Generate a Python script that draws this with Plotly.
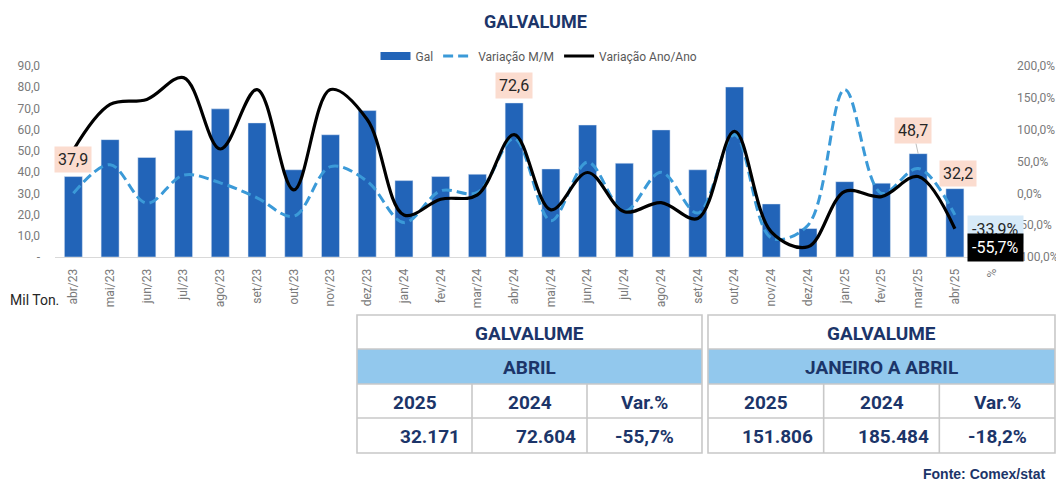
import plotly.graph_objects as go

# ---------------- data ----------------
categories = ["abr/23", "mai/23", "jun/23", "jul/23", "ago/23", "set/23", "out/23", "nov/23",
              "dez/23", "jan/24", "fev/24", "mar/24", "abr/24", "mai/24", "jun/24", "jul/24",
              "ago/24", "set/24", "out/24", "nov/24", "dez/24", "jan/25", "fev/25", "mar/25",
              "abr/25", "%"]
gal = [37.9, 55.3, 46.9, 59.7, 69.8, 63.2, 41.1, 57.6, 69.0, 36.0, 37.9, 39.0, 72.6, 41.5,
       62.2, 44.2, 59.9, 41.1, 80.1, 25.0, 13.4, 35.5, 34.8, 48.7, 32.2]
var_mm = [0.0, 45.0, -15.5, 28.5, 16.5, -7.0, -36.0, 42.0, 19.0, -46.0, 4.0, 1.5, 86.0, -43.0,
          49.0, -28.0, 33.0, -31.0, 92.0, -70.0, -50.0, 163.0, 0.0, 39.0, -33.9]
var_aa = [68.0, 139.6, 147.5, 181.7, 69.6, 163.0, 5.4, 163.0, 115.9, -34.0, -9.3, -2.5, 92.2,
          -26.0, 32.7, -28.9, -14.6, -39.4, 97.5, -60.5, -84.0, 2.8, -5.2, 26.4, -55.7]
left_ticks = [0, 10, 20, 30, 40, 50, 60, 70, 80, 90]
right_ticks = [-100, -50, 0, 50, 100, 150, 200]

# labelled bar values (index)
bar_labels = [0, 12, 23, 24]

# summary tables
table_title = "GALVALUME"
table1_period = "ABRIL"
table2_period = "JANEIRO A ABRIL"
table_headers = ["2025", "2024", "Var.%"]
table1_values = ["32.171", "72.604", "-55,7%"]
table2_values = ["151.806", "185.484", "-18,2%"]

# ---------------- geometry helpers ----------------
# the page body has an 8px margin, so the figure is drawn 8px smaller and
# every reference position is shifted by that margin
OFF = 8
W, H = 1064 - OFF, 481 - OFF
# plot area in reference (page) pixels
RL, RR, RT, RB = 55, 1010, 66, 257
PL, PR, PT, PB = RL - OFF, RR - OFF, RT - OFF, RB - OFF


def px(x):
    return (x - RL) / (RR - RL)


def py(y):
    return (RB - y) / (RB - RT)


def fmt(v):
    return f"{v:.1f}".replace(".", ",")


NAVY = "#1c3569"
BAR = "#2264b8"
DASH = "#3b9ad8"
GRAY = "#7a7a7a"

fig = go.Figure()
fig.add_trace(go.Bar(x=categories[:len(gal)], y=gal, name="Gal", marker_color=BAR,
                     yaxis="y", showlegend=False))
# legend entry for the bars (wide flat swatch as in the original)
fig.add_trace(go.Scatter(x=[None], y=[None], name="Gal", mode="lines",
                         line=dict(color=BAR, width=8), yaxis="y"))
fig.add_trace(go.Scatter(x=categories[:len(var_mm)], y=var_mm, name="Variação M/M",
                         mode="lines", yaxis="y2",
                         line=dict(color=DASH, width=3, dash="10px,5px", shape="spline",
                                   smoothing=1.0)))
fig.add_trace(go.Scatter(x=categories[:len(var_aa)], y=var_aa, name="Variação Ano/Ano",
                         mode="lines", yaxis="y2",
                         line=dict(color="black", width=3.2, shape="spline", smoothing=1.0)))

annotations = []
shapes = []


def paper_text(x, y, text, font, xanchor="center", yanchor="middle"):
    annotations.append(dict(x=px(x), y=py(y), xref="paper", yref="paper", text=text,
                            showarrow=False, xanchor=xanchor, yanchor=yanchor, font=font))


# bar data labels
lab_offsets = {0: (0, 17), 12: (0, 17), 23: (-5, 23), 24: (3, 15)}
for i in bar_labels:
    dx, dy = lab_offsets[i]
    if i == 23:
        annotations.append(dict(x=categories[i], y=gal[i], xref="x", yref="y",
                                text=fmt(gal[i]), showarrow=True, arrowhead=0,
                                arrowwidth=1, arrowcolor="#bdbdbd", ax=dx, ay=-dy,
                                standoff=0,
                                bgcolor="#fbdccf", borderpad=3,
                                font=dict(family="Roboto", size=16, color="#262626")))
    else:
        annotations.append(dict(x=categories[i], y=gal[i], xref="x", yref="y",
                                text=fmt(gal[i]), showarrow=False, xshift=dx, yshift=dy,
                                bgcolor="#fbdccf", borderpad=3,
                                font=dict(family="Roboto", size=16, color="#262626")))

# last-point percentage labels
annotations.append(dict(x=categories[25], y=var_mm[-1], xref="x", yref="y2",
                        text=fmt(var_mm[-1]) + "%", showarrow=False, xshift=4, yshift=-15,
                        bgcolor="#d7eaf8", borderpad=4,
                        font=dict(family="Roboto", size=16, color="#262626")))
annotations.append(dict(x=categories[25], y=var_aa[-1], xref="x", yref="y2",
                        text=fmt(var_aa[-1]) + "%", showarrow=False, xshift=4, yshift=-19,
                        bgcolor="black", borderpad=4,
                        font=dict(family="Roboto", size=16, color="white")))

# title & footnotes
paper_text(535, 21, "<b>GALVALUME</b>", dict(family="Roboto", size=18, color=NAVY))
paper_text(OFF, 300, "Mil Ton.", dict(family="Roboto", size=14, color="#262626"),
           xanchor="left")
paper_text(1047, 474, "<b>Fonte: Comex/stat</b>",
           dict(family="Liberation Sans", size=14, color=NAVY), xanchor="right")

# tables
rows_y = [315, 349, 384, 418, 453]
BORDER = "#c8c8c8"


def draw_table(x0, x1, period, values, val_shift):
    cw = (x1 - x0) / 3
    shapes.append(dict(type="rect", xref="paper", yref="paper", x0=px(x0), x1=px(x1),
                       y0=py(rows_y[2]), y1=py(rows_y[1]), fillcolor="#92c8ed",
                       line=dict(width=0), layer="below"))
    shapes.append(dict(type="rect", xref="paper", yref="paper", x0=px(x0), x1=px(x1),
                       y0=py(rows_y[4]), y1=py(rows_y[0]), line=dict(color=BORDER, width=1.6)))
    for r in rows_y[1:4]:
        shapes.append(dict(type="line", xref="paper", yref="paper", x0=px(x0), x1=px(x1),
                           y0=py(r), y1=py(r), line=dict(color=BORDER, width=1.6)))
    for c in (1, 2):
        xc = x0 + c * cw
        shapes.append(dict(type="line", xref="paper", yref="paper", x0=px(xc), x1=px(xc),
                           y0=py(rows_y[4]), y1=py(rows_y[2]),
                           line=dict(color=BORDER, width=1.6)))
    f = dict(family="Roboto", size=19, color=NAVY)
    xm = (x0 + x1) / 2
    paper_text(xm, (rows_y[0] + rows_y[1]) / 2 + 1, f"<b>{table_title}</b>", f)
    paper_text(xm, (rows_y[1] + rows_y[2]) / 2 + 1, f"<b>{period}</b>", f)
    for c in range(3):
        xc = x0 + (c + 0.5) * cw
        paper_text(xc, (rows_y[2] + rows_y[3]) / 2 + 1, f"<b>{table_headers[c]}</b>", f)
        paper_text(xc + val_shift[c], (rows_y[3] + rows_y[4]) / 2 + 1,
                   f"<b>{values[c]}</b>", f)


draw_table(357, 702, table1_period, table1_values, [15, 16, 0])
draw_table(708, 1055, table2_period, table2_values, [12, 12, 0])

fig.update_layout(
    width=W, height=H,
    margin=dict(l=PL, r=W - PR, t=PT, b=H - PB, pad=0, autoexpand=False),
    paper_bgcolor="white", plot_bgcolor="white",
    bargap=0.51,
    showlegend=True,
    legend=dict(orientation="h", x=px(539), xanchor="center", y=py(56), yanchor="middle",
                font=dict(family="Roboto", size=12, color="#595959"),
                tracegroupgap=0, bgcolor="rgba(0,0,0,0)"),
    xaxis=dict(type="category", categoryorder="array", categoryarray=categories,
               range=[-0.5, len(categories) - 0.5], automargin=False,
               tickangle=-90, tickfont=dict(family="Roboto", size=12, color=GRAY),
               showgrid=False, showline=True, linecolor="#d9d9d9", linewidth=1,
               ticks="", ticklabelstandoff=6, fixedrange=True),
    yaxis=dict(range=[0, 90], tickvals=left_ticks, automargin=False,
               ticktext=["-" if v == 0 else fmt(v) for v in left_ticks],
               tickfont=dict(family="Roboto", size=12, color=GRAY), showgrid=False,
               zeroline=False, showline=False, ticks="", ticklabelstandoff=14),
    yaxis2=dict(range=[-100, 200], tickvals=right_ticks, automargin=False,
                ticktext=[fmt(v) + "%" for v in right_ticks], overlaying="y", side="right",
                tickfont=dict(family="Roboto", size=12, color=GRAY), showgrid=False,
                zeroline=False, showline=False, ticks="", ticklabelstandoff=6),
    annotations=annotations,
    shapes=shapes,
)

fig.write_html("out.html")
